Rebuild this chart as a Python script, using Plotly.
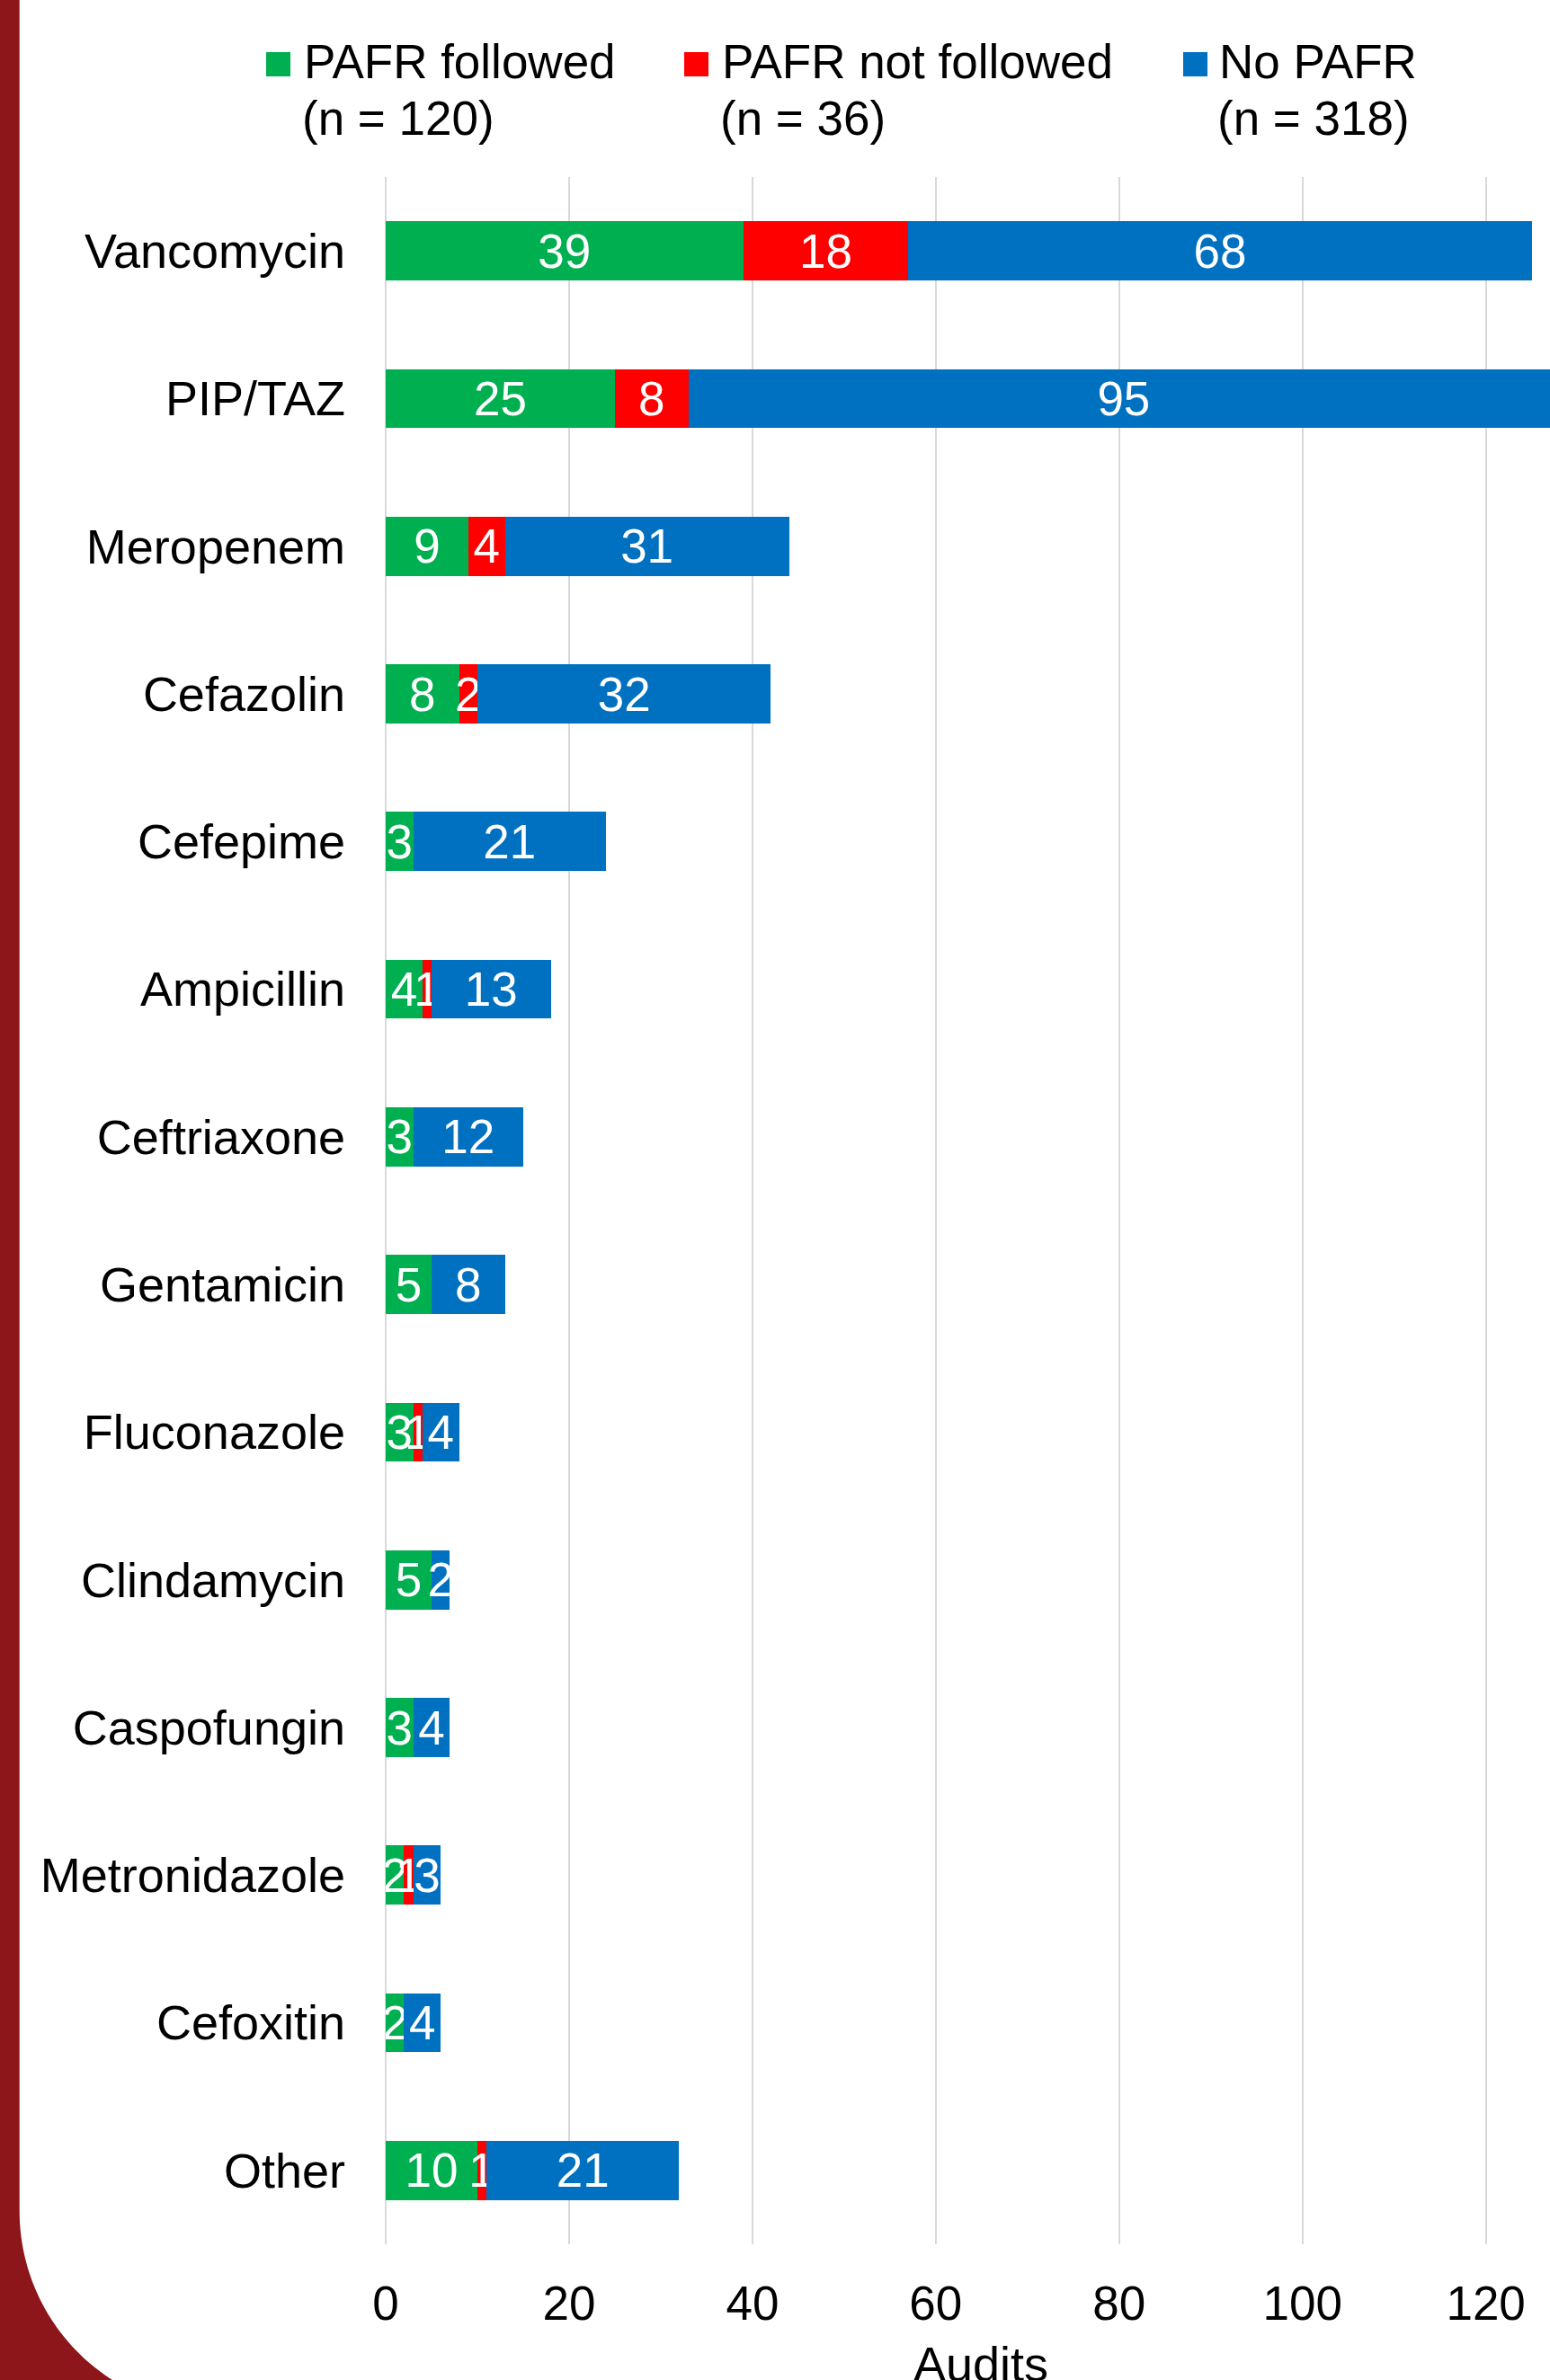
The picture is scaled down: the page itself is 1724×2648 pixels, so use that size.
import numpy as np
import plotly.graph_objects as go

# Audit counts by antimicrobial (top to bottom)
drugs = ["Vancomycin", "PIP/TAZ", "Meropenem", "Cefazolin", "Cefepime", "Ampicillin",
         "Ceftriaxone", "Gentamicin", "Fluconazole", "Clindamycin", "Caspofungin",
         "Metronidazole", "Cefoxitin", "Other"]
pafr_followed = [39, 25, 9, 8, 3, 4, 3, 5, 3, 5, 3, 2, 2, 10]
pafr_not_followed = [18, 8, 4, 2, 0, 1, 0, 0, 1, 0, 0, 1, 0, 1]
no_pafr = [68, 95, 31, 32, 21, 13, 12, 8, 4, 2, 4, 3, 4, 21]

series_names = ["PAFR followed", "PAFR not followed", "No PAFR"]
series_counts = ["(n = 120)", "(n = 36)", "(n = 318)"]
series_colors = ["#00B050", "#FF0000", "#0070C0"]

x_ticks = [0, 20, 40, 60, 80, 100, 120]
x_title = "Audits"

W, H = 1724, 2648
M_L, M_R, M_T, M_B = 429, 0, 197, 151
PW, PH = W - M_L - M_R, H - M_T - M_B
FONT = "Arial, Liberation Sans, sans-serif"
FS = 53


def px_x(p):
    return (p - M_L) / PW


def px_y(p):
    return (H - M_B - p) / PH


fig = go.Figure()
for name, vals, col in zip(series_names, [pafr_followed, pafr_not_followed, no_pafr], series_colors):
    fig.add_trace(go.Bar(
        y=drugs, x=vals, name=name, orientation="h",
        marker=dict(color=col, line=dict(width=0)),
        text=[str(v) if v else "" for v in vals],
        textposition="inside", insidetextanchor="middle",
        textangle=0, constraintext="none",
        textfont=dict(color="white", size=FS, family=FONT),
        showlegend=False,
    ))

# Legend: coloured squares with two-line labels
legend_sq_x = [296, 761, 1316]
legend_txt_x = [339, 804, 1357]
shapes = []
annotations = []
for sx, tx, name, cnt, col in zip(legend_sq_x, legend_txt_x, series_names, series_counts, series_colors):
    shapes.append(dict(type="rect", xref="paper", yref="paper",
                       x0=px_x(sx), x1=px_x(sx + 27), y0=px_y(85), y1=px_y(58),
                       fillcolor=col, line=dict(width=0)))
    annotations.append(dict(xref="paper", yref="paper", x=px_x(tx - 3), y=px_y(69),
                            text=name, showarrow=False, xanchor="left", yanchor="middle",
                            font=dict(size=FS, color="black", family=FONT)))
    annotations.append(dict(xref="paper", yref="paper", x=px_x(tx - 5), y=px_y(131),
                            text=cnt, showarrow=False, xanchor="left", yanchor="middle",
                            font=dict(size=FS, color="black", family=FONT)))

# Axis title below the tick labels
annotations.append(dict(xref="paper", yref="paper", x=px_x(1091), y=px_y(2630),
                        text=x_title, showarrow=False, xanchor="center", yanchor="middle",
                        font=dict(size=FS + 1, color="black", family=FONT)))

# Maroon page border on the left with a rounded bottom corner
edge_x, cy, r = 21.7, 2460.0, 222.7
cx = edge_x + r
ys = np.linspace(cy, H, 40)
xs = cx - np.sqrt(np.maximum(r ** 2 - (ys - cy) ** 2, 0))
pts = [(0, 0), (edge_x, 0)] + list(zip(xs, ys)) + [(0, H)]
path = "M " + " L ".join(f"{px_x(a):.5f},{px_y(b):.5f}" for a, b in pts) + " Z"
shapes.append(dict(type="path", xref="paper", yref="paper", path=path,
                   fillcolor="#8C1619", line=dict(width=0), layer="above"))

fig.update_layout(
    width=W, height=H,
    margin=dict(l=M_L, r=M_R, t=M_T, b=M_B, pad=0),
    barmode="stack", bargap=0.6,
    paper_bgcolor="white", plot_bgcolor="white",
    font=dict(family=FONT, size=FS, color="black"),
    shapes=shapes, annotations=annotations,
    xaxis=dict(range=[0, 127.0], tickvals=x_ticks, ticktext=[str(t) for t in x_ticks],
               showgrid=True, gridcolor="#D9D9D9", gridwidth=2,
               zeroline=True, zerolinecolor="#D9D9D9", zerolinewidth=2,
               showline=False, ticks="", ticklabelstandoff=30,
               tickfont=dict(size=FS, color="black", family=FONT)),
    yaxis=dict(categoryorder="array", categoryarray=drugs, autorange="reversed",
               showgrid=False, zeroline=False, showline=False, ticks="",
               ticklabelstandoff=44,
               tickfont=dict(size=FS + 1, color="black", family=FONT)),
)

fig.write_html("out.html")
